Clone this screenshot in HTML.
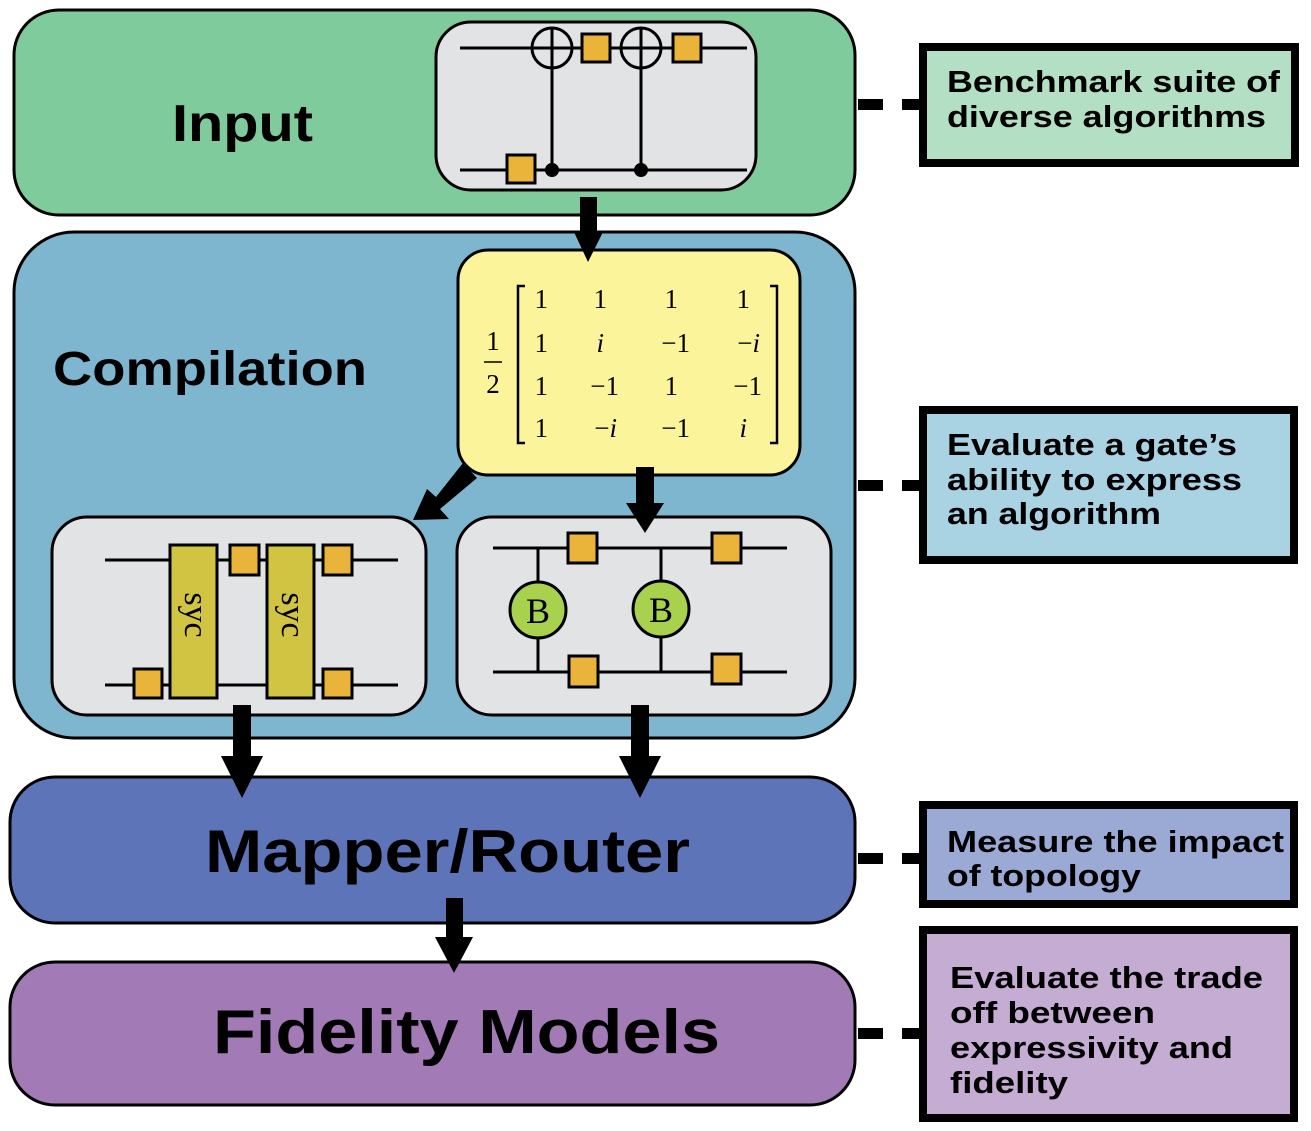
<!DOCTYPE html>
<html><head><meta charset="utf-8"><style>
html,body{margin:0;padding:0;background:#fff;}
svg{display:block;}
.b{font-family:"Liberation Sans",sans-serif;font-weight:bold;fill:#000;}
.m{font-family:"Liberation Serif",serif;fill:#000;font-size:27px;}
.mi{font-family:"Liberation Serif",serif;font-style:italic;fill:#000;font-size:27px;}
</style></head><body>
<svg width="1311" height="1131" viewBox="0 0 1311 1131" xmlns="http://www.w3.org/2000/svg">
<rect x="14" y="10" width="841" height="205" rx="45" fill="#80CB9C" stroke="#000" stroke-width="3"/>
<text class="b" x="172" y="141" font-size="52" textLength="141" lengthAdjust="spacingAndGlyphs">Input</text>
<rect x="436" y="22" width="320" height="168" rx="35" fill="#E2E3E5" stroke="#000" stroke-width="3"/>
<g stroke="#000" stroke-width="3" fill="none">
<line x1="460" y1="48" x2="747" y2="48"/>
<line x1="460" y1="170" x2="747" y2="170"/>
<line x1="552" y1="28" x2="552" y2="170"/>
<line x1="641" y1="28" x2="641" y2="170"/>
<circle cx="552" cy="48" r="20"/>
<circle cx="641" cy="48" r="20"/>
</g>
<circle cx="552" cy="170" r="7" fill="#000"/>
<circle cx="641" cy="170" r="7" fill="#000"/>
<g fill="#EAB43A" stroke="#000" stroke-width="3">
<rect x="582" y="34" width="28" height="28"/>
<rect x="673" y="34" width="28" height="28"/>
<rect x="507" y="155" width="28" height="28"/>
</g>
<rect x="14" y="232" width="841" height="506" rx="60" fill="#7EB6CF" stroke="#000" stroke-width="3"/>
<text class="b" x="53" y="385" font-size="48" textLength="314" lengthAdjust="spacingAndGlyphs">Compilation</text>
<rect x="458" y="250" width="342" height="225" rx="30" fill="#FBF49A" stroke="#000" stroke-width="3"/>
<text class="m" x="493" y="350" text-anchor="middle">1</text>
<line x1="484" y1="362" x2="502" y2="362" stroke="#000" stroke-width="1.5"/>
<text class="m" x="493" y="393" text-anchor="middle">2</text>
<path d="M525 286 H518 V443 H525" fill="none" stroke="#000" stroke-width="2.5"/>
<path d="M770 286 H777 V443 H770" fill="none" stroke="#000" stroke-width="2.5"/>
<g text-anchor="end">
<text class="m" x="548" y="308">1</text><text class="m" x="607" y="308">1</text><text class="m" x="678" y="308">1</text><text class="m" x="750" y="308">1</text>
<text class="m" x="548" y="352">1</text><text class="mi" x="604" y="352">i</text><text class="m" x="690" y="352">−1</text><text class="m" x="760" y="352">−<tspan font-style="italic">i</tspan></text>
<text class="m" x="548" y="395">1</text><text class="m" x="619" y="395">−1</text><text class="m" x="678" y="395">1</text><text class="m" x="762" y="395">−1</text>
<text class="m" x="548" y="437">1</text><text class="m" x="617" y="437">−<tspan font-style="italic">i</tspan></text><text class="m" x="690" y="437">−1</text><text class="mi" x="747" y="437">i</text>
</g>
<rect x="52" y="517" width="374" height="198" rx="35" fill="#E2E3E5" stroke="#000" stroke-width="3"/>
<g stroke="#000" stroke-width="3">
<line x1="105" y1="560" x2="398" y2="560"/>
<line x1="105" y1="685" x2="398" y2="685"/>
<rect x="170" y="545" width="47" height="153" fill="#D1C443"/>
<rect x="267" y="545" width="47" height="153" fill="#D1C443"/>
<g fill="#EAB43A">
<rect x="230" y="545" width="29" height="30"/>
<rect x="323" y="545" width="29" height="30"/>
<rect x="134" y="669" width="28" height="29"/>
<rect x="323" y="669" width="29" height="29"/>
</g></g>
<text x="193" y="615" font-family="Liberation Serif,serif" font-size="34" transform="rotate(90 193 615)" text-anchor="middle" dominant-baseline="middle">syc</text>
<text x="290" y="615" font-family="Liberation Serif,serif" font-size="34" transform="rotate(90 290 615)" text-anchor="middle" dominant-baseline="middle">syc</text>
<rect x="457" y="517" width="374" height="198" rx="35" fill="#E2E3E5" stroke="#000" stroke-width="3"/>
<g stroke="#000" stroke-width="3">
<line x1="493" y1="548" x2="787" y2="548"/>
<line x1="493" y1="672" x2="787" y2="672"/>
<line x1="538" y1="548" x2="538" y2="672"/>
<line x1="661" y1="548" x2="661" y2="672"/>
<ellipse cx="538" cy="610" rx="28" ry="28" fill="#A8D14E"/>
<ellipse cx="661" cy="609" rx="28" ry="28" fill="#A8D14E"/>
<g fill="#EAB43A">
<rect x="568" y="533" width="29" height="30"/>
<rect x="712" y="533" width="29" height="30"/>
<rect x="569" y="656" width="29" height="31"/>
<rect x="712" y="654" width="29" height="30"/>
</g></g>
<text x="538" y="623" font-family="Liberation Serif,serif" font-size="36" text-anchor="middle">B</text>
<text x="661" y="622" font-family="Liberation Serif,serif" font-size="36" text-anchor="middle">B</text>
<rect x="10" y="777" width="845" height="146" rx="45" fill="#5D74B8" stroke="#000" stroke-width="3"/>
<text class="b" x="205" y="872" font-size="60" textLength="485" lengthAdjust="spacingAndGlyphs">Mapper/Router</text>
<rect x="10" y="962" width="845" height="143" rx="45" fill="#A27BB6" stroke="#000" stroke-width="3"/>
<text class="b" x="213" y="1053" font-size="62" textLength="507" lengthAdjust="spacingAndGlyphs">Fidelity Models</text>
<g fill="#000">
<rect x="580" y="197" width="17" height="38"/><polygon points="574,232 603,232 588,262"/>
<rect x="636" y="467" width="18" height="40"/><polygon points="626,503 664,503 645,533"/>
<polygon points="463,463 477,478 440,509 449,519 413,520 427,489 436,497"/>
<rect x="233" y="705" width="18" height="55"/><polygon points="221,756 263,756 242,798"/>
<rect x="631" y="705" width="18" height="55"/><polygon points="619,756 661,756 640,798"/>
<rect x="446" y="898" width="17" height="42"/><polygon points="435,937 473,937 454,973"/>
</g>
<g fill="#000">
<rect x="858" y="99" width="25" height="11"/><rect x="902" y="99" width="20" height="11"/>
<rect x="858" y="480" width="25" height="11"/><rect x="902" y="480" width="20" height="11"/>
<rect x="858" y="853" width="25" height="11"/><rect x="902" y="853" width="20" height="11"/>
<rect x="858" y="1028" width="25" height="11"/><rect x="902" y="1028" width="20" height="11"/>
</g>
<rect x="923" y="47" width="372" height="116" fill="#B3DFC5" stroke="#000" stroke-width="8"/>
<text class="b" x="947" y="92" font-size="31" textLength="333" lengthAdjust="spacingAndGlyphs">Benchmark suite of</text>
<text class="b" x="947" y="127" font-size="31" textLength="319" lengthAdjust="spacingAndGlyphs">diverse algorithms</text>
<rect x="923" y="410" width="371" height="150" fill="#A9D2E3" stroke="#000" stroke-width="8"/>
<text class="b" x="947" y="455" font-size="31" textLength="290" lengthAdjust="spacingAndGlyphs">Evaluate a gate’s</text>
<text class="b" x="947" y="490" font-size="31" textLength="295" lengthAdjust="spacingAndGlyphs">ability to express</text>
<text class="b" x="947" y="524" font-size="31" textLength="214" lengthAdjust="spacingAndGlyphs">an algorithm</text>
<rect x="923" y="805" width="371" height="99" fill="#9BAAD4" stroke="#000" stroke-width="8"/>
<text class="b" x="947" y="852" font-size="31" textLength="337" lengthAdjust="spacingAndGlyphs">Measure the impact</text>
<text class="b" x="947" y="886" font-size="31" textLength="194" lengthAdjust="spacingAndGlyphs">of topology</text>
<rect x="923" y="930" width="371" height="188" fill="#C5ACD3" stroke="#000" stroke-width="8"/>
<text class="b" x="950" y="988" font-size="31" textLength="313" lengthAdjust="spacingAndGlyphs">Evaluate the trade</text>
<text class="b" x="950" y="1023" font-size="31" textLength="205" lengthAdjust="spacingAndGlyphs">off between</text>
<text class="b" x="950" y="1058" font-size="31" textLength="283" lengthAdjust="spacingAndGlyphs">expressivity and</text>
<text class="b" x="950" y="1093" font-size="31" textLength="118" lengthAdjust="spacingAndGlyphs">fidelity</text>
</svg>
</body></html>
